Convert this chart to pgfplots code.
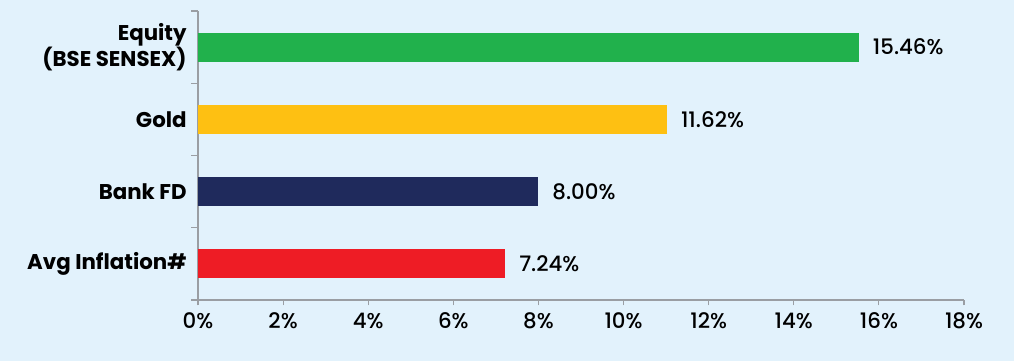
\documentclass[border=0pt]{standalone}
\usepackage{pgfplots}
\pgfplotsset{compat=1.18}
\usepackage{fontspec}
\setmainfont{Poppins Medium}[BoldFont={Poppins Bold}]
\definecolor{bg}{HTML}{E2F2FC}
\definecolor{cgreen}{HTML}{21B14C}
\definecolor{cyellow}{HTML}{FEC012}
\definecolor{cnavy}{HTML}{1F2A5C}
\definecolor{cred}{HTML}{EE1C25}
\definecolor{axgray}{HTML}{9A9EA3}
\begin{document}
\begin{tikzpicture}
\fill[bg] (0,0) rectangle (760.5pt,270.75pt);
\useasboundingbox (0,0) rectangle (760.5pt,270.75pt);
\begin{axis}[
  at={(148.5pt,45.75pt)}, anchor=south west,
  scale only axis, width=574.5pt, height=216.75pt,
  xmin=0, xmax=18, ymin=-0.5, ymax=3.5,
  axis lines*=left,
  axis line style={axgray, line width=0.9pt},
  xtick={0,2,...,18},
  xticklabel={\pgfmathprintnumber{\tick}\%},
  /pgf/number format/assume math mode=true,
  xticklabel style={font=\fontsize{16}{18}\selectfont, text=black, yshift=-2pt},
  ytick={0,1,2,3},
  yticklabels={Avg Inflation\#, Bank FD, Gold, {Equity\\(BSE SENSEX)}},
  yticklabel style={font=\fontsize{16}{19.5}\selectfont\bfseries, text=black, align=right, xshift=-1pt},
  minor ytick={-0.5,0.5,1.5,2.5,3.5},
  tick style={axgray, line width=0.9pt},
  major tick length=4pt,
  minor tick length=5pt,
  tick align=outside,
  ytick style={draw=none},
  minor y tick style={draw=axgray},
  xbar, bar width=0.4, bar shift=0pt,
  nodes near coords,
  point meta=explicit symbolic,
  nodes near coords style={font=\fontsize{16}{18}\selectfont, text=black, anchor=west, xshift=7pt},
  clip=false,
]
\addplot[fill=cred, draw=none] coordinates {(7.22,0) [7.24\%]};
\addplot[fill=cnavy, draw=none] coordinates {(8.00,1) [8.00\%]};
\addplot[fill=cyellow, draw=none] coordinates {(11.02,2) [11.62\%]};
\addplot[fill=cgreen, draw=none] coordinates {(15.53,3) [15.46\%]};
\end{axis}
\end{tikzpicture}
\end{document}
